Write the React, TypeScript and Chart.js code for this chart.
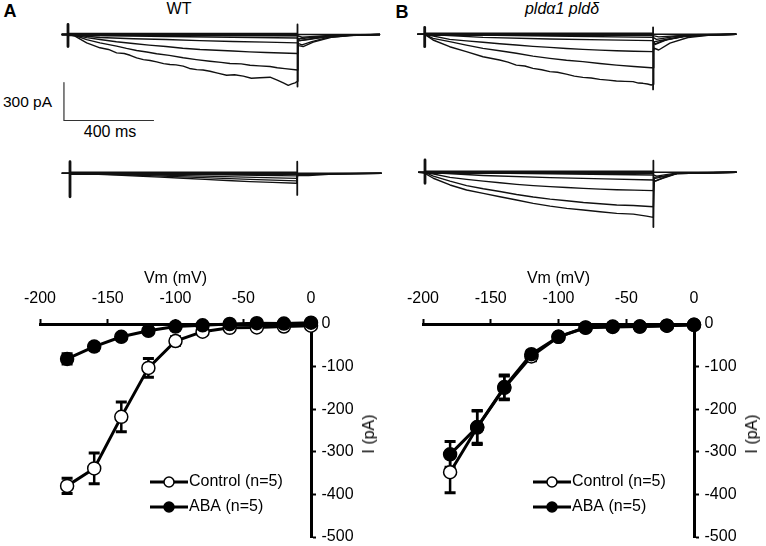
import React, { useEffect, useRef } from 'react';
import { Chart, registerables } from 'chart.js';
Chart.register(...registerables);

const FONT = "'Liberation Sans', Arial, Helvetica, sans-serif";
Chart.defaults.font.family = FONT;
Chart.defaults.font.size = 16;
Chart.defaults.color = '#000';

// ---------- I-V data ----------
const VM = [-180, -160, -140, -120, -100, -80, -60, -40, -20, 0];
const X_TICKS = [-200, -150, -100, -50, 0];
const Y_TICKS = [0, -100, -200, -300, -400, -500];

const WT_CONTROL = [-380, -339, -218, -103, -40, -18, -9, -8, -6, -4];
const WT_CONTROL_SE = [18, 36, 35, 22, 10, 5, 3, 3, 3, 3];
const WT_ABA = [-82, -53, -30, -16, -6, -3, 0, 2, 1, 3];
const WT_ABA_SE = [12, 8, 6, 5, 4, 3, 3, 3, 3, 3];

const MUT_CONTROL = [-348, -243, -150, -76, -30, -9, -7, -6, -4, -2];
const MUT_CONTROL_SE = [48, 40, 28, 10, 6, 4, 3, 3, 3, 3];
const MUT_ABA = [-306, -242, -148, -71, -30, -8, -6, -6, -4, -2];
const MUT_ABA_SE = [30, 38, 28, 8, 6, 4, 3, 3, 3, 3];

const LABEL_CONTROL = 'Control (n=5)';
const LABEL_ABA = 'ABA (n=5)';

// ---------- current traces: [time ms, current pA] ----------
const WT_CTRL_T1 = [[-28, 0], [0, 0], [31, -13], [83, -66], [142, -105], [180, -118], [216, -145], [250, -150], [276, -164], [305, -185], [335, -198], [365, -205], [394, -216], [425, -230], [453, -237], [480, -240], [512, -250], [540, -268], [572, -277], [600, -280], [631, -290], [665, -305], [705, -322], [740, -318], [779, -329], [815, -345], [853, -342], [898, -337], [930, -360], [957, -382], [979, -401], [995, -390], [1009, -382], [1020, -369], [1022, -35], [1060, -28], [1150, -12], [1250, -4], [1387, 0]];
const WT_CTRL_T2 = [[-28, 0], [0, 0], [31, -8], [83, -40], [142, -66], [216, -92], [260, -110], [305, -126], [350, -138], [394, -152], [450, -165], [512, -184], [570, -198], [631, -211], [680, -220], [720, -229], [770, -232], [809, -243], [850, -248], [898, -253], [930, -262], [964, -269], [1020, -280], [1022, -50], [1060, -42], [1150, -18], [1250, -6], [1387, 0]];
const WT_CTRL_T3 = [[-28, 0], [0, 0], [31, -6], [83, -25], [142, -40], [215, -57], [289, -71], [360, -84], [435, -95], [510, -108], [587, -118], [660, -124], [733, -130], [806, -137], [880, -142], [950, -146], [1020, -150], [1022, -70], [1040, -82], [1080, -58], [1150, -25], [1250, -8], [1387, 0]];
const WT_CTRL_T4 = [[-28, 0], [0, 0], [60, -10], [142, -24], [290, -33], [435, -40], [585, -48], [733, -55], [880, -60], [1020, -66], [1025, -88], [1045, -95], [1090, -60], [1170, -22], [1270, -6], [1387, 0]];
const WT_CTRL_T5 = [[-28, 0], [0, 0], [150, -8], [435, -16], [730, -22], [1020, -28], [1030, -48], [1100, -28], [1200, -8], [1387, 0]];
const WT_CTRL_T6 = [[-28, 0], [0, 0], [500, -5], [1020, -10], [1040, -22], [1200, -4], [1387, 0]];
const WT_CTRL_BASE = [[-28, 0], [1387, 0]];
const WT_CTRL_BAND = [[0, 0], [1020, 0]];
const WT_CTRL_ON = [[0, 79], [0, -95]];
const WT_CTRL_OFF = [[1020, 79], [1020, -411]];

const WT_ABA_T1 = [[-37, 0], [0, 0], [100, -5], [207, -13], [300, -22], [400, -30], [504, -39], [600, -48], [700, -57], [800, -66], [900, -72], [1007, -79], [1012, -15], [1060, -18], [1150, -8], [1385, 0]];
const WT_ABA_T2 = [[-37, 0], [0, 0], [207, -9], [504, -28], [800, -48], [1007, -60], [1012, -10], [1100, -8], [1385, 0]];
const WT_ABA_T3 = [[0, 0], [504, -18], [1007, -40], [1012, -5], [1385, 0]];
const WT_ABA_T4 = [[0, 0], [504, -8], [1007, -20], [1012, 0]];
const WT_ABA_BASE = [[-37, 0], [1385, 0]];
const WT_ABA_BAND = [[0, 0], [1010, 0]];
const WT_ABA_ON = [[0, 92], [0, -185]];
const WT_ABA_OFF = [[1010, 92], [1010, -171]];

const MUT_CTRL_T1 = [[-33, 0], [0, 0], [37, -45], [111, -98], [185, -137], [259, -177], [333, -203], [370, -220], [407, -243], [445, -250], [481, -269], [520, -280], [556, -295], [590, -300], [629, -314], [665, -330], [703, -340], [740, -345], [778, -356], [815, -362], [852, -369], [890, -372], [926, -374], [950, -385], [970, -387], [990, -392], [1007, -400], [1015, -395], [1018, -60], [1060, -45], [1150, -15], [1250, -4], [1385, 0]];
const MUT_CTRL_T2 = [[-33, 0], [0, 0], [37, -32], [111, -58], [185, -85], [259, -111], [333, -130], [407, -150], [481, -172], [556, -190], [630, -205], [703, -216], [778, -230], [852, -243], [930, -254], [1007, -264], [1015, -264], [1018, -80], [1060, -50], [1150, -18], [1250, -5], [1385, 0]];
const MUT_CTRL_T3 = [[-33, 0], [0, 0], [111, -40], [185, -52], [259, -63], [333, -75], [407, -85], [481, -95], [556, -103], [630, -112], [703, -119], [778, -125], [852, -130], [930, -134], [1015, -137], [1020, -110], [1040, -124], [1090, -70], [1170, -25], [1270, -5], [1385, 0]];
const MUT_CTRL_T4 = [[0, 0], [259, -24], [556, -37], [800, -44], [1015, -50], [1025, -80], [1080, -40], [1170, -12], [1385, 0]];
const MUT_CTRL_T5 = [[0, 0], [556, -14], [1015, -24], [1030, -40], [1120, -15], [1385, 0]];
const MUT_CTRL_T6 = [[0, 0], [1015, -10], [1040, -20], [1200, -4], [1385, 0]];
const MUT_CTRL_BASE = [[-33, 0], [1385, 0]];
const MUT_CTRL_BAND = [[0, 0], [1015, 0]];
const MUT_CTRL_ON = [[0, 55], [0, -98]];
const MUT_CTRL_OFF = [[1015, 55], [1015, -435]];

const MUT_ABA_T1 = [[-30, 0], [0, -8], [37, -47], [111, -100], [185, -140], [259, -166], [333, -193], [407, -219], [481, -245], [556, -267], [630, -285], [704, -298], [778, -312], [852, -324], [926, -330], [985, -346], [1015, -356], [1018, -40], [1060, -30], [1120, -10], [1385, 0]];
const MUT_ABA_T2 = [[-30, 0], [0, 0], [37, -30], [111, -70], [185, -105], [259, -130], [333, -152], [407, -175], [481, -195], [556, -212], [630, -225], [704, -238], [778, -248], [852, -258], [926, -262], [1015, -272], [1018, -50], [1070, -30], [1120, -10], [1385, 0]];
const MUT_ABA_T3 = [[-30, 0], [0, 0], [111, -40], [185, -56], [259, -70], [333, -83], [407, -95], [481, -105], [556, -113], [630, -120], [704, -127], [778, -133], [852, -138], [930, -141], [1015, -145], [1020, -70], [1060, -45], [1120, -10], [1385, 0]];
const MUT_ABA_T4 = [[0, 0], [259, -25], [556, -42], [800, -52], [1015, -61], [1025, -70], [1070, -35], [1120, -8], [1385, 0]];
const MUT_ABA_T5 = [[0, 0], [556, -12], [1015, -21], [1030, -30], [1120, -5], [1385, 0]];
const MUT_ABA_BASE = [[-30, 0], [1385, 0]];
const MUT_ABA_BAND = [[0, 0], [1015, 0]];
const MUT_ABA_ON = [[0, 97], [0, -87]];
const MUT_ABA_OFF = [[1015, 92], [1015, -432]];

// scale bar (values in ms and pA)
const SCALE_BAR_MS = 400;
const SCALE_BAR_PA = 300;

// pixel scale of trace panels
const MS_PER_PX = 400 / 90;
const PA_PER_PX = 300 / 38;

type Trace = { pts: number[][]; w?: number; color?: string };

function TracePanel(props: { left: number; top: number; width: number; height: number; x0: number; y0: number; traces: Trace[] }) {
  const ref = useRef<HTMLCanvasElement>(null);
  const { left, top, width, height, x0, y0, traces } = props;
  useEffect(() => {
    const xmin = (left - x0) * MS_PER_PX;
    const xmax = (left + width - x0) * MS_PER_PX;
    const ymax = (y0 - top) * PA_PER_PX;
    const ymin = -(top + height - y0) * PA_PER_PX;
    const chart = new Chart(ref.current!, {
      type: 'line',
      data: {
        datasets: traces.map((t) => ({
          data: t.pts as any,
          borderColor: t.color || '#111',
          borderWidth: t.w ?? 1.4,
          pointRadius: 0,
          tension: 0,
          fill: false,
          borderJoinStyle: 'round' as const,
        })),
      },
      options: {
        responsive: false,
        animation: false,
        devicePixelRatio: 1,
        events: [],
        layout: { padding: 0 },
        plugins: { legend: { display: false }, tooltip: { enabled: false } },
        scales: {
          x: { type: 'linear', display: false, min: xmin, max: xmax },
          y: { type: 'linear', display: false, min: ymin, max: ymax },
        },
      },
    });
    return () => chart.destroy();
  }, []);
  return <canvas ref={ref} width={width} height={height} style={{ position: 'absolute', left, top, width, height }} />;
}

const errorBarPlugin = {
  id: 'errorBars',
  beforeDatasetsDraw(chart: any) {
    const { ctx } = chart;
    const xs = chart.scales.x;
    const ys = chart.scales.y;
    chart.data.datasets.forEach((ds: any) => {
      const errs = ds.errors;
      if (!errs) return;
      ctx.save();
      ctx.strokeStyle = '#000';
      ds.data.forEach((p: number[], j: number) => {
        const x = xs.getPixelForValue(p[0]);
        const yt = ys.getPixelForValue(p[1] + errs[j]);
        const yb = ys.getPixelForValue(p[1] - errs[j]);
        ctx.lineWidth = 2.5;
        ctx.beginPath();
        ctx.moveTo(x, yt);
        ctx.lineTo(x, yb);
        ctx.stroke();
        ctx.lineWidth = 3;
        ctx.beginPath();
        ctx.moveTo(x - 5.5, yt);
        ctx.lineTo(x + 5.5, yt);
        ctx.moveTo(x - 5.5, yb);
        ctx.lineTo(x + 5.5, yb);
        ctx.stroke();
      });
      ctx.restore();
    });
  },
};

const ivLegendPlugin = {
  id: 'ivLegend',
  afterDatasetsDraw(chart: any, _args: any, opts: any) {
    const { ctx } = chart;
    const rows = opts.rows || [];
    rows.forEach((row: any) => {
      const ds = chart.data.datasets[row.index];
      ctx.save();
      ctx.strokeStyle = ds.borderColor;
      ctx.lineWidth = ds.borderWidth;
      ctx.beginPath();
      ctx.moveTo(opts.x1, row.y);
      ctx.lineTo(opts.x2, row.y);
      ctx.stroke();
      ctx.beginPath();
      ctx.arc((opts.x1 + opts.x2) / 2, row.y, opts.r, 0, Math.PI * 2);
      ctx.fillStyle = ds.pointBackgroundColor;
      ctx.fill();
      ctx.lineWidth = ds.pointBorderWidth;
      ctx.strokeStyle = ds.pointBorderColor;
      ctx.stroke();
      ctx.fillStyle = '#000';
      ctx.font = `16px ${FONT}`;
      ctx.textBaseline = 'middle';
      ctx.textAlign = 'left';
      ctx.fillText(ds.label, opts.x2 + opts.gap, row.y);
      ctx.restore();
    });
  },
};

function IVPanel(props: { left: number; ctrl: number[]; ctrlSe: number[]; aba: number[]; abaSe: number[] }) {
  const ref = useRef<HTMLCanvasElement>(null);
  const { left, ctrl, ctrlSe, aba, abaSe } = props;
  useEffect(() => {
    const axisGrid = { display: true, drawOnChartArea: false, drawTicks: true, tickLength: 5, tickWidth: 2, tickColor: '#000' };
    const axisBorder = { display: true, width: 3, color: '#000' };
    const chart = new Chart(ref.current!, {
      type: 'line',
      data: {
        datasets: [
          {
            label: LABEL_CONTROL,
            data: VM.map((v, i) => [v, ctrl[i]]) as any,
            errors: ctrlSe,
            borderColor: '#000',
            borderWidth: 3,
            pointRadius: 6.5,
            pointBackgroundColor: '#fff',
            pointBorderColor: '#000',
            pointBorderWidth: 1.5,
            tension: 0,
            order: 1,
            clip: false,
          } as any,
          {
            label: LABEL_ABA,
            data: VM.map((v, i) => [v, aba[i]]) as any,
            errors: abaSe,
            borderColor: '#000',
            borderWidth: 3,
            pointRadius: 6.5,
            pointBackgroundColor: '#000',
            pointBorderColor: '#000',
            pointBorderWidth: 1.5,
            tension: 0,
            order: 0,
            clip: false,
          } as any,
        ],
      },
      options: {
        responsive: false,
        animation: false,
        devicePixelRatio: 1,
        events: [],
        layout: { padding: { left: 40, right: 0, top: 0, bottom: 9 } },
        scales: {
          x: {
            type: 'linear',
            position: 'top',
            min: -200,
            max: 0,
            afterFit: (s: any) => { s.height = 69; s.paddingLeft = 0; s.paddingRight = 0; },
            afterBuildTicks: (s: any) => { s.ticks = X_TICKS.map((v) => ({ value: v })); },
            ticks: { padding: 11, color: '#000', font: { size: 16 }, maxRotation: 0 },
            grid: axisGrid,
            border: axisBorder,
            title: { display: true, text: 'Vm (mV)', color: '#000', font: { size: 16 }, padding: { top: 14, bottom: 0 } },
          },
          y: {
            type: 'linear',
            position: 'right',
            min: -500,
            max: 0,
            afterFit: (s: any) => { s.width = 72; s.paddingTop = 0; s.paddingBottom = 0; },
            afterBuildTicks: (s: any) => { s.ticks = Y_TICKS.map((v) => ({ value: v })); },
            ticks: { padding: 5.5, color: '#000', font: { size: 16 } },
            grid: axisGrid,
            border: axisBorder,
          },
        },
        plugins: {
          legend: { display: false },
          tooltip: { enabled: false },
          ivLegend: { x1: 150, x2: 188, r: 5, gap: 1, rows: [{ index: 0, y: 227 }, { index: 1, y: 252 }] },
        } as any,
      },
      plugins: [errorBarPlugin, ivLegendPlugin],
    });
    return () => chart.destroy();
  }, []);
  return <canvas ref={ref} width={383} height={291} style={{ position: 'absolute', left, top: 255, width: 383, height: 291 }} />;
}

function Txt(props: { x: number; y: number; size?: number; bold?: boolean; italic?: boolean; rotate?: number; children: any }) {
  const { x, y, size = 16, bold, italic, rotate, children } = props;
  return (
    <div
      style={{
        position: 'absolute',
        left: x,
        top: y,
        transform: `translate(-50%, -50%)${rotate ? ` rotate(${rotate}deg)` : ''}`,
        fontSize: size,
        fontWeight: bold ? 'bold' : 'normal',
        fontStyle: italic ? 'italic' : 'normal',
        whiteSpace: 'nowrap',
        lineHeight: 1,
        color: '#000',
        fontFamily: FONT,
      }}
    >
      {children}
    </div>
  );
}

const traces = (list: number[][][], band: number[][], base: number[][], on: number[][], off: number[][]): Trace[] => [
  { pts: base, w: 1.4 },
  { pts: band, w: 3.5 },
  ...list.map((pts) => ({ pts, w: 1.4 })),
  { pts: on, w: 2.8 },
  { pts: off, w: 1.8 },
];

export default function App() {
  const sbX = -18;
  const sbY = -679;
  const wtCtrl = traces([WT_CTRL_T6, WT_CTRL_T5, WT_CTRL_T4, WT_CTRL_T3, WT_CTRL_T2, WT_CTRL_T1], WT_CTRL_BAND, WT_CTRL_BASE, WT_CTRL_ON, WT_CTRL_OFF);
  wtCtrl.push({ pts: [[sbX, sbY + SCALE_BAR_PA], [sbX, sbY]], w: 1.2, color: '#333' });
  wtCtrl.push({ pts: [[sbX, sbY], [sbX + SCALE_BAR_MS, sbY]], w: 1.2, color: '#333' });
  const wtAba = traces([WT_ABA_T4, WT_ABA_T3, WT_ABA_T2, WT_ABA_T1], WT_ABA_BAND, WT_ABA_BASE, WT_ABA_ON, WT_ABA_OFF);
  const mutCtrl = traces([MUT_CTRL_T6, MUT_CTRL_T5, MUT_CTRL_T4, MUT_CTRL_T3, MUT_CTRL_T2, MUT_CTRL_T1], MUT_CTRL_BAND, MUT_CTRL_BASE, MUT_CTRL_ON, MUT_CTRL_OFF);
  const mutAba = traces([MUT_ABA_T5, MUT_ABA_T4, MUT_ABA_T3, MUT_ABA_T2, MUT_ABA_T1], MUT_ABA_BAND, MUT_ABA_BASE, MUT_ABA_ON, MUT_ABA_OFF);
  return (
    <div style={{ position: 'absolute', left: 0, top: 0, width: 766, height: 546, background: '#fff', overflow: 'hidden' }}>
      <Txt x={10} y={11} size={18} bold>A</Txt>
      <Txt x={402} y={11.5} size={18} bold>B</Txt>
      <Txt x={179} y={9} size={16}>WT</Txt>
      <Txt x={562} y={9} size={16} italic>pldα1 pldδ</Txt>
      <Txt x={27.5} y={102} size={15.5}>300 pA</Txt>
      <Txt x={110} y={132} size={16}>400 ms</Txt>
      <TracePanel left={40} top={10} width={360} height={125} x0={68} y0={34.5} traces={wtCtrl} />
      <TracePanel left={40} top={140} width={360} height={70} x0={70} y0={173.3} traces={wtAba} />
      <TracePanel left={400} top={10} width={355} height={95} x0={424.7} y0={34.3} traces={mutCtrl} />
      <TracePanel left={400} top={140} width={355} height={100} x0={425} y0={172.3} traces={mutAba} />
      <IVPanel left={0} ctrl={WT_CONTROL} ctrlSe={WT_CONTROL_SE} aba={WT_ABA} abaSe={WT_ABA_SE} />
      <IVPanel left={383} ctrl={MUT_CONTROL} ctrlSe={MUT_CONTROL_SE} aba={MUT_ABA} abaSe={MUT_ABA_SE} />
      <Txt x={369} y={434} size={16} rotate={-90}>I (pA)</Txt>
      <Txt x={752} y={434} size={16} rotate={-90}>I (pA)</Txt>
    </div>
  );
}
